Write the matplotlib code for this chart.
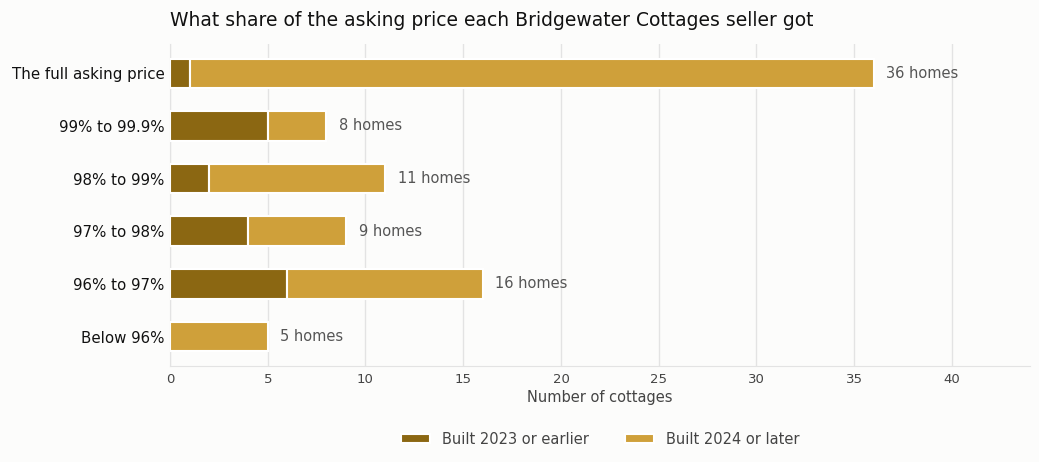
import matplotlib
matplotlib.use("Agg")
import matplotlib.pyplot as plt
import numpy as np

plt.rcParams["font.family"] = ["DejaVu Sans"]

BG_COLOR = "#FCFCFB"
OLD_COLOR = "#8B6712"
NEW_COLOR = "#CFA03A"
GRID_COLOR = "#E3E3E3"

categories = ["The full asking price", "99% to 99.9%", "98% to 99%",
              "97% to 98%", "96% to 97%", "Below 96%"]
built_old = [1, 5, 2, 4, 6, 0]
built_new = [35, 3, 9, 5, 10, 5]
totals = [o + n for o, n in zip(built_old, built_new)]

fig, ax = plt.subplots(figsize=(10.39, 4.62), dpi=100)
fig.patch.set_facecolor(BG_COLOR)
ax.set_facecolor(BG_COLOR)

y = np.arange(len(categories))
ax.barh(y, built_old, height=0.56, color=OLD_COLOR, edgecolor="white",
        linewidth=1.5, label="Built 2023 or earlier", zorder=3)
ax.barh(y, built_new, left=built_old, height=0.56, color=NEW_COLOR,
        edgecolor="white", linewidth=1.5, label="Built 2024 or later", zorder=3)

for yi, t in zip(y, totals):
    ax.text(t + 0.65, yi, f"{t} homes", va="center", ha="left",
            fontsize=10.5, color="#555555")

ax.set_yticks(y)
ax.set_yticklabels(categories, fontsize=10.8, color="#111111")
ax.invert_yaxis()
ax.set_xlim(0, 44)
ax.set_xticks(range(0, 45, 5))
ax.tick_params(axis="x", labelsize=9.5, colors="#444444", length=0, pad=5)
ax.tick_params(axis="y", length=0, pad=4)
ax.set_xlabel("Number of cottages", fontsize=10.5, color="#444444", labelpad=3)

ax.grid(True, axis="x", color=GRID_COLOR, linewidth=1, zorder=0)
ax.set_axisbelow(True)
for side in ["top", "right"]:
    ax.spines[side].set_visible(False)
ax.spines["left"].set_color(GRID_COLOR)
ax.spines["bottom"].set_color(GRID_COLOR)

ax.set_title("What share of the asking price each Bridgewater Cottages seller got",
             loc="left", fontsize=13.5, color="#111111", pad=13)

leg = ax.legend(loc="upper center", bbox_to_anchor=(0.5, -0.163), ncol=2,
                frameon=False, fontsize=10.5, handlelength=2, handleheight=0.6,
                columnspacing=2.5)
for text in leg.get_texts():
    text.set_color("#444444")

fig.subplots_adjust(left=0.1636, right=0.9915, top=0.905, bottom=0.208)
fig.savefig("out.png", dpi=100, facecolor=BG_COLOR)
